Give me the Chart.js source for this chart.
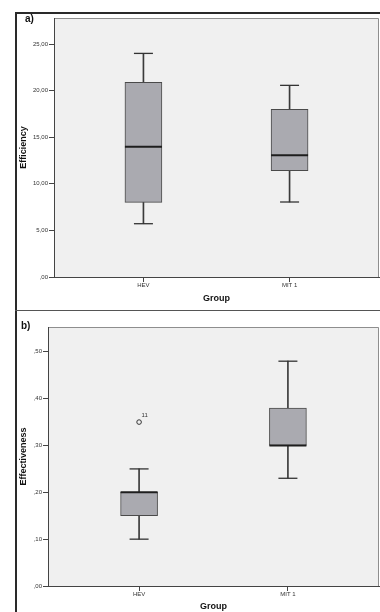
<!DOCTYPE html>
<html><head><meta charset="utf-8">
<script src="https://cdn.jsdelivr.net/npm/chart.js@4"></script>
<style>
html,body{margin:0;padding:0;background:#fff;width:380px;height:612px;overflow:hidden;}
#wrap{position:relative;width:380px;height:612px;}
canvas{position:absolute;left:0;}
.ln{position:absolute;background:#2a2a2a;}
.lbl{position:absolute;font:bold 10px "Liberation Sans",Arial,sans-serif;color:#111;line-height:12px;}
</style></head>
<body><div id="wrap">
<canvas id="ca" width="380" height="310" style="top:0"></canvas>
<canvas id="cb" width="380" height="302" style="top:310px"></canvas>
<div class="ln" style="left:15px;top:12px;width:1.5px;height:600px"></div>
<div class="ln" style="left:15px;top:12px;width:365px;height:1.5px"></div>
<div class="ln" style="left:15px;top:310px;width:365px;height:1px;background:#555"></div>
<div class="lbl" style="left:25px;top:13px">a)</div>
<div class="lbl" style="left:21px;top:320px">b)</div>
</div>
<script>
// ---- data ----
const groups = ['HEV', 'MIT 1'];
const groupPos = [0, 1];
const xTitle = 'Group';

// a) Efficiency
const effLow = [5.72, 8.05];
const effQ1 = [8.01, 11.41];
const effMedian = [13.98, 13.06];
const effQ3 = [20.9, 17.99];
const effHigh = [24.0, 20.57];
const effTicks = [0, 5, 10, 15, 20, 25];
const effTickLabels = [',00', '5,00', '10,00', '15,00', '20,00', '25,00'];

// b) Effectiveness
const efvLow = [0.10, 0.23];
const efvQ1 = [0.15, 0.30];
const efvMedian = [0.20, 0.30];
const efvQ3 = [0.20, 0.38];
const efvHigh = [0.25, 0.48];
const efvOutlierGroup = [0];
const efvOutlierValue = [0.35];
const efvOutlierLabel = ['11'];
const efvTicks = [0, 0.1, 0.2, 0.3, 0.4, 0.5];
const efvTickLabels = [',00', ',10', ',20', ',30', ',40', ',50'];

// ---- drawing ----
const FONT = '"Liberation Sans", Arial, sans-serif';
Chart.defaults.font.family = FONT;

const frame = {
  id: 'frame',
  beforeDraw(c) {
    const a = c.chartArea, ctx = c.ctx;
    ctx.save();
    ctx.fillStyle = '#f0f0f0';
    ctx.fillRect(a.left, a.top, a.right - a.left, a.bottom - a.top);
    ctx.strokeStyle = '#8e8e8e';
    ctx.lineWidth = 1;
    ctx.beginPath();
    ctx.moveTo(a.left, a.top + 0.5);
    ctx.lineTo(a.right - 0.5, a.top + 0.5);
    ctx.lineTo(a.right - 0.5, a.bottom);
    ctx.stroke();
    ctx.restore();
  }
};

const outLabels = {
  id: 'outLabels',
  afterDatasetsDraw(c) {
    const ds = c.data.datasets;
    ds.forEach((d, di) => {
      if (!d.isOutlier) return;
      const meta = c.getDatasetMeta(di);
      const ctx = c.ctx;
      ctx.save();
      ctx.font = '6px ' + FONT;
      ctx.fillStyle = '#333';
      ctx.textBaseline = 'middle';
      meta.data.forEach((el, k) => {
        ctx.fillText(d.data[k].label, el.x + 2.5, el.y - 7);
      });
      ctx.restore();
    });
  }
};

function boxChart(id, d, L) {
  const whisk = [], box = [], caps = [], meds = [], outs = [];
  groups.forEach((g, i) => {
    const x = groupPos[i];
    whisk.push({x, y: [d.low[i], d.q1[i]]}, {x, y: [d.q3[i], d.high[i]]});
    box.push({x, y: [d.q1[i], d.q3[i]]});
    caps.push({x, y: d.low[i]}, {x, y: d.high[i]});
    meds.push({x, y: d.med[i]});
  });
  (d.outG || []).forEach((gi, k) => outs.push({x: groupPos[gi], y: d.outV[k], label: d.outL[k]}));

  const datasets = [
    {type: 'bar', data: whisk, backgroundColor: '#3a3a3a', barThickness: 1, grouped: false, order: 5},
    {type: 'bar', data: box, backgroundColor: '#aaaab0', borderColor: '#4a4a4a', borderWidth: 1,
      borderSkipped: false, barThickness: 37, grouped: false, order: 4},
    {type: 'scatter', data: caps, pointStyle: 'line', pointRadius: 9.5, pointBorderWidth: 1.3,
      pointBorderColor: '#333', order: 2},
    {type: 'scatter', data: meds, pointStyle: 'line', pointRadius: 18.5, pointBorderWidth: 2,
      pointBorderColor: '#1e1e1e', order: 1}
  ];
  if (outs.length) datasets.push({type: 'scatter', data: outs, isOutlier: true, pointStyle: 'circle',
    pointRadius: 2.3, pointBorderWidth: 1, pointBorderColor: '#333', pointBackgroundColor: 'rgba(0,0,0,0)', order: 0});

  return new Chart(document.getElementById(id), {
    type: 'bar',
    data: {datasets},
    plugins: [frame, outLabels],
    options: {
      responsive: false, animation: false, devicePixelRatio: 1, events: [],
      layout: {autoPadding: false, padding: {top: L.padTop, right: 1, bottom: 0, left: 0}},
      plugins: {legend: {display: false}, tooltip: {enabled: false}},
      scales: {
        x: {
          type: 'linear', min: -0.612, max: 1.612, offset: false,
          afterBuildTicks: s => { s.ticks = groupPos.map(v => ({value: v})); },
          afterFit: s => { s.height = L.xHeight; s.paddingLeft = 0; s.paddingRight = 0; },
          ticks: {callback: (v, i) => groups[i], font: {size: 6}, color: '#333', padding: 0, maxRotation: 0, autoSkip: false},
          grid: {drawOnChartArea: false, offset: false, tickLength: 5, color: '#444', tickWidth: 1},
          border: {color: '#444', width: 1},
          title: {display: true, text: xTitle, font: {size: 9, weight: 'bold'}, color: '#111',
            padding: {top: 0, bottom: L.xTitlePad}}
        },
        y: {
          type: 'linear', min: 0, max: L.yMax,
          afterBuildTicks: s => { s.ticks = d.ticks.map(v => ({value: v})); },
          afterFit: s => { s.width = L.yWidth; s.paddingTop = 0; s.paddingBottom = 0; },
          ticks: {callback: (v, i) => d.tickLabels[i], font: {size: 6}, color: '#333', padding: 1, autoSkip: false},
          grid: {drawOnChartArea: false, tickLength: 5, color: '#444'},
          border: {color: '#444', width: 1},
          title: {display: true, text: L.yTitle, font: {size: 9, weight: 'bold'}, color: '#111',
            padding: {top: 18.6, bottom: 0}}
        }
      }
    }
  });
}

boxChart('ca', {low: effLow, q1: effQ1, med: effMedian, q3: effQ3, high: effHigh,
  ticks: effTicks, tickLabels: effTickLabels},
  {padTop: 18, yWidth: 54, xHeight: 33, yMax: 27.8, yTitle: 'Efficiency', xTitlePad: 5.6});

boxChart('cb', {low: efvLow, q1: efvQ1, med: efvMedian, q3: efvQ3, high: efvHigh,
  outG: efvOutlierGroup, outV: efvOutlierValue, outL: efvOutlierLabel,
  ticks: efvTicks, tickLabels: efvTickLabels},
  {padTop: 17, yWidth: 48, xHeight: 26, yMax: 0.553, yTitle: 'Effectiveness', xTitlePad: 0});
</script>
</body></html>
